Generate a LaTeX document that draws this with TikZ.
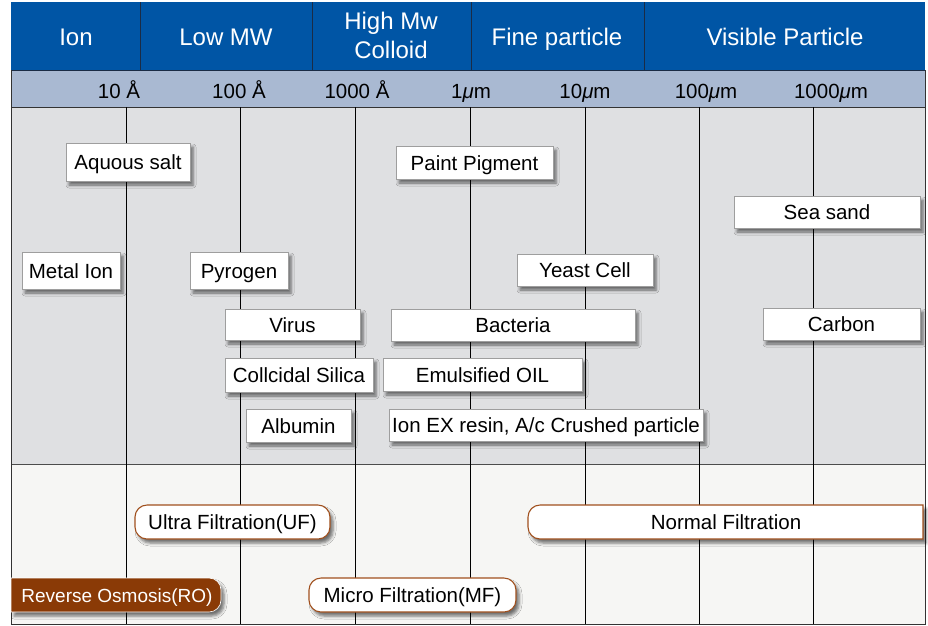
\documentclass[tikz,border=0pt]{standalone}
\usepackage{fontspec}
\setmainfont{Liberation Sans}
\usetikzlibrary{shadows,shadows.blur}
\definecolor{hdrblue}{HTML}{0055A5}
\definecolor{hdrline}{HTML}{1B2C45}
\definecolor{scalebg}{HTML}{A9B9D2}
\definecolor{topbg}{HTML}{DFE0E2}
\definecolor{botbg}{HTML}{F6F6F4}
\definecolor{boxborder}{HTML}{9E9E9E}
\definecolor{pillborder}{HTML}{A0501E}
\definecolor{rofill}{HTML}{8A3A06}
\newcommand{\mum}{{\itshape μ}m}
\begin{document}
\begin{tikzpicture}[x=1pt,y=-1pt,
  hdrtext/.style={text=white,font=\fontsize{24}{28}\selectfont,anchor=base,inner sep=0pt},
  scaletext/.style={text=black,font=\fontsize{20.5}{24}\selectfont,anchor=base,inner sep=0pt},
  shade/.style={blur shadow={shadow xshift=3pt,shadow yshift=-4pt,shadow blur radius=3pt,shadow opacity=55}},
  item/.style={shade,draw=boxborder,line width=0.7pt,fill=white,inner sep=0pt,
    font=\fontsize{20.5}{24}\selectfont,text height=15pt,text depth=0pt},
  pill/.style={shade,draw=pillborder,line width=1.1pt,fill=white,rounded corners=12pt,inner sep=0pt,
    font=\fontsize{20.5}{24}\selectfont,text height=15pt,text depth=0pt},
  pilltext/.style={inner sep=0pt,font=\fontsize{20.5}{24}\selectfont,text height=15pt,text depth=0pt},
  grid/.style={black,line width=0.8pt},
]
\useasboundingbox (0,0) rectangle (928,625);
% backgrounds
\fill[hdrblue] (11,2) rectangle (925,70);
\fill[scalebg] (11,70) rectangle (925,107);
\fill[topbg] (11,107) rectangle (925,464);
\fill[botbg] (11,464) rectangle (925,624);
% header dividers
\foreach \x in {140,312,471,644} \draw[hdrline,line width=0.8pt] (\x,2) -- (\x,70);
\draw[hdrline,line width=0.8pt] (11,70) -- (925,70);
\draw[black!80,line width=0.9pt] (11,107) -- (925,107);
\draw[black!70,line width=0.8pt] (11,464) -- (925,464);
% grid lines
\foreach \x in {126,240,355,470,585,699,813} \draw[grid] (\x,107) -- (\x,624);
% frame
\draw[black!80,line width=0.8pt] (11,70) -- (11,624) -- (925,624) -- (925,70);
% header texts
\node[hdrtext] (hIon) at (76,45) {Ion};
\node[hdrtext] (hLow) at (226,45) {Low MW};
\node[hdrtext] (hHigh) at (391,29) {High Mw};
\node[hdrtext] (hColl) at (391,58) {Colloid};
\node[hdrtext] (hFine) at (557,45) {Fine particle};
\node[hdrtext] (hVis) at (785,45) {Visible Particle};
% scale texts
\node[scaletext] (s1) at (119,98) {10 Å};
\node[scaletext] (s2) at (239,98) {100 Å};
\node[scaletext] (s3) at (357,98) {1000 Å};
\node[scaletext] (s4) at (471,98) {1\mum};
\node[scaletext] (s5) at (585,98) {10\mum};
\node[scaletext] (s6) at (706,98) {100\mum};
\node[scaletext] (s7) at (831,98) {1000\mum};
% particle boxes
\node[item,minimum width=124pt,minimum height=38pt] (aq) at (128,162) {Aquous salt};
\node[item,minimum width=98pt,minimum height=37pt] (metal) at (71,270.5) {Metal Ion};
\node[item,minimum width=98pt,minimum height=37pt] (pyro) at (239,270.5) {Pyrogen};
\node[item,minimum width=135pt,minimum height=31pt] (virus) at (292.5,324.5) {Virus};
\node[item,minimum width=148pt,minimum height=34pt] (silica) at (299,375) {Collcidal Silica};
\node[item,minimum width=105pt,minimum height=33pt] (alb) at (298.5,425.5) {Albumin};
\node[item,minimum width=157pt,minimum height=33pt] (paint) at (474.5,162.5) {Paint Pigment};
\node[item,minimum width=136pt,minimum height=32pt] (yeast) at (585,270) {Yeast Cell};
\node[item,minimum width=244pt,minimum height=32pt] (bact) at (513,325) {Bacteria};
\node[item,minimum width=199pt,minimum height=33pt] (emul) at (482.5,374.5) {Emulsified OIL};
\node[item,minimum width=314pt,minimum height=32pt] (ionex) at (546,425) {Ion EX resin, A/c Crushed particle};
\node[item,minimum width=186pt,minimum height=32pt] (sea) at (827,212) {Sea sand};
\node[item,minimum width=157pt,minimum height=32pt] (carbon) at (841.5,324) {Carbon};
% filtration pills
\node[pill,minimum width=195pt,minimum height=34pt] (uf) at (232.5,522) {Ultra Filtration(UF)};
\node[pill,minimum width=207pt,minimum height=34pt] (mf) at (412.5,595) {Micro Filtration(MF)};
\path[shade,fill=rofill,draw=white,line width=0.6pt]
  (11,578) [rounded corners=12pt] -- (221,578) -- (221,612) [sharp corners] -- (11,612) -- cycle;
\node[pilltext,text=white,font=\fontsize{19}{23}\selectfont] (ro) at (117,595) {Reverse Osmosis(RO)};
\path[shade,fill=white,draw=pillborder,line width=1.1pt]
  (923,505) -- (923,539) [rounded corners=12pt] -- (528,539) -- (528,505) [sharp corners] -- cycle;
\node[pilltext] (nf) at (726,522) {Normal Filtration};
\end{tikzpicture}
\end{document}
